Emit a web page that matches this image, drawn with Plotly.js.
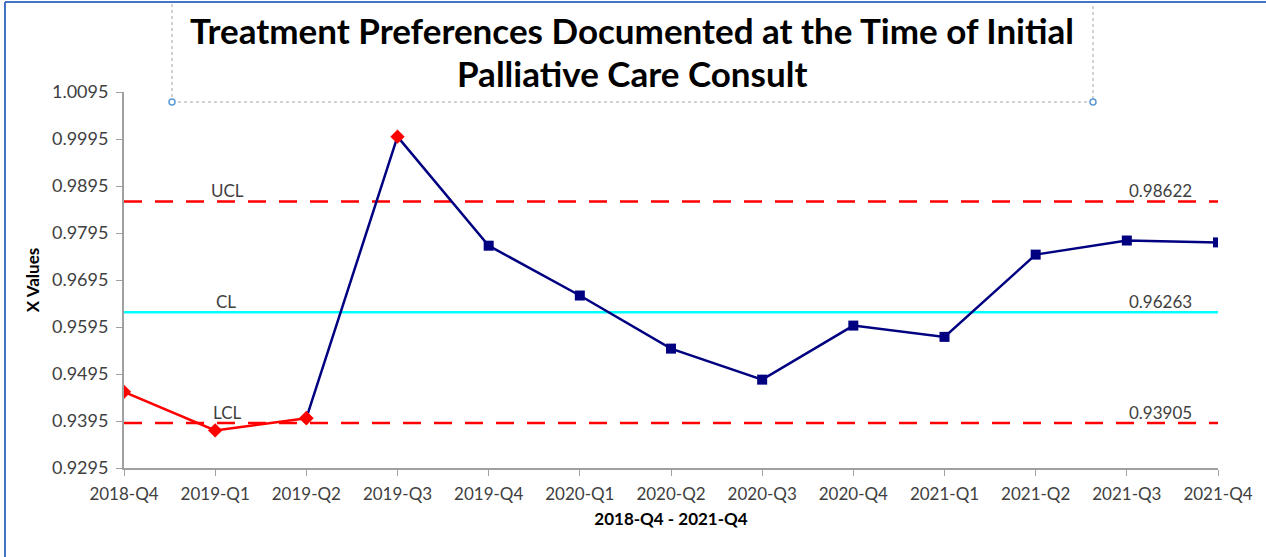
<!DOCTYPE html>
<html><head><meta charset="utf-8">
<script src="https://cdn.plot.ly/plotly-3.0.1.min.js"></script>
<style>body{margin:0;background:#fff}#c{width:1266px;height:557px}</style>
</head><body><div id="c"></div>
<script>
const categories = ['2018-Q4','2019-Q1','2019-Q2','2019-Q3','2019-Q4','2020-Q1','2020-Q2','2020-Q3','2020-Q4','2021-Q1','2021-Q2','2021-Q3','2021-Q4'];
const xValues = [0.9457, 0.9375, 0.9401, 1.0000, 0.9768, 0.9662, 0.9549, 0.9483, 0.9598, 0.9574, 0.9749, 0.9779, 0.9775];
const outOfControl = [true, true, true, true, false, false, false, false, false, false, false, false, false];
const UCL = 0.98622, CL = 0.96263, LCL = 0.93905;
const yTickStart = 0.9295, yTickEnd = 1.0095, yStep = 0.01;
const titleLines = ['Treatment Preferences Documented at the Time of Initial', 'Palliative Care Consult'];

const FONT = 'Lato, "Open Sans", sans-serif';
const lastIdx = categories.length - 1;
const firstNavy = 2;
const redX = categories.slice(0, 3), redY = xValues.slice(0, 3);
const navyX = categories.slice(firstNavy), navyY = xValues.slice(firstNavy);
const navyOOC = outOfControl.slice(firstNavy);

const traces = [
  {x:[categories[0], categories[lastIdx]], y:[UCL, UCL], mode:'lines', line:{color:'#FF0000', width:2.5, dash:'18px,13px'}, hoverinfo:'skip'},
  {x:[categories[0], categories[lastIdx]], y:[CL, CL], mode:'lines', line:{color:'#00FFFF', width:2.5}, hoverinfo:'skip'},
  {x:[categories[0], categories[lastIdx]], y:[LCL, LCL], mode:'lines', line:{color:'#FF0000', width:2.5, dash:'18px,13px'}, hoverinfo:'skip'},
  {x:navyX, y:navyY, mode:'lines+markers', line:{color:'#000080', width:2.5},
   marker:{opacity:1, symbol:navyOOC.map(o=>o?'diamond':'square'), color:navyOOC.map(o=>o?'#FF0000':'#000080'), size:navyOOC.map(o=>o?11:10), line:{width:0}}},
  {x:redX, y:redY, mode:'lines+markers', line:{color:'#FF0000', width:2.5},
   marker:{opacity:1, symbol:'diamond', color:'#FF0000', size:11, line:{width:0}}}
];

const lbl = (x, y, t) => ({x:x, y:y, xref:'x', yref:'y', text:t, showarrow:false, yanchor:'bottom', yshift:-2,
  font:{family:FONT, size:17, color:'#404040'}});
const ttl = (yPx, t) => ({x:(632-124)/1094, y:(468-yPx)/376, xref:'paper', yref:'paper', text:'<b>'+t+'</b>', showarrow:false,
  xanchor:'center', yanchor:'middle', font:{family:FONT, size:35, color:'#000'}});

const layout = {
  width:1266, height:557,
  margin:{l:124, r:48, t:92, b:89},
  paper_bgcolor:'#fff', plot_bgcolor:'#fff',
  showlegend:false,
  xaxis:{type:'category', categoryorder:'array', categoryarray:categories, range:[0, lastIdx],
    showline:true, linecolor:'#A0A0A0', linewidth:2,
    ticks:'outside', ticklen:6, tickcolor:'#A0A0A0', showgrid:false, zeroline:false, ticklabelstandoff:4,
    tickfont:{family:FONT, size:17, color:'#404040'},
    title:{text:'<b>2018-Q4 - 2021-Q4</b>', font:{family:FONT, size:17, color:'#000'}, standoff:10}},
  yaxis:{range:[yTickStart, yTickEnd], tick0:yTickStart, dtick:yStep, tickformat:'.4f',
    showline:true, linecolor:'#A0A0A0', linewidth:2, ticks:'outside', ticklen:6, tickcolor:'#A0A0A0', ticklabelstandoff:4,
    showgrid:false, zeroline:false, tickfont:{family:FONT, size:18, color:'#404040'},
    title:{text:'<b>X Values</b>', font:{family:FONT, size:17, color:'#000'}, standoff:8}},
  annotations:[
    ttl(30, titleLines[0]), ttl(73, titleLines[1]),
    lbl(1.14, UCL, 'UCL'), lbl(1.12, CL, 'CL'), lbl(1.14, LCL, 'LCL'),
    lbl(11.37, UCL, UCL.toFixed(5)), lbl(11.37, CL, CL.toFixed(5)), lbl(11.37, LCL, LCL.toFixed(5))
  ],
  shapes:[
    {type:'rect', xref:'paper', yref:'paper', x0:(172-124)/1094, x1:(1093-124)/1094, y0:(468-102)/376, y1:(468-2)/376,
     line:{color:'#A6A6A6', width:1, dash:'dot'}},
    {type:'circle', xref:'paper', yref:'paper', x0:(169-124)/1094, x1:(175-124)/1094, y0:(468-105)/376, y1:(468-99)/376,
     line:{color:'#5B9BD5', width:1.5}, fillcolor:'#fff'},
    {type:'circle', xref:'paper', yref:'paper', x0:(1090-124)/1094, x1:(1096-124)/1094, y0:(468-105)/376, y1:(468-99)/376,
     line:{color:'#5B9BD5', width:1.5}, fillcolor:'#fff'},
    {type:'line', xref:'paper', yref:'paper', x0:-119/1094, x1:(1266-124)/1094, y0:(468-2)/376, y1:(468-2)/376,
     line:{color:'#4472C4', width:2}},
    {type:'line', xref:'paper', yref:'paper', x0:-119/1094, x1:-119/1094, y0:(468-2)/376, y1:(468-557)/376,
     line:{color:'#4472C4', width:2}}
  ]
};
Plotly.newPlot('c', traces, layout, {displayModeBar:false, staticPlot:true});
</script></body></html>
